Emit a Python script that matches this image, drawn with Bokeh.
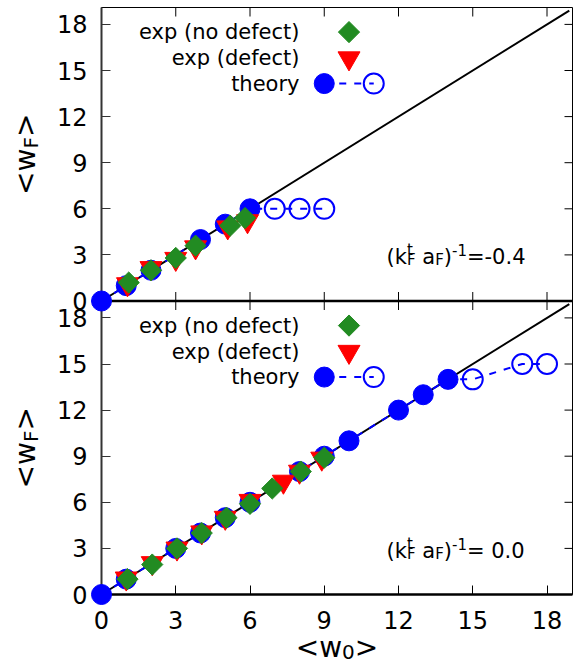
import math
from bokeh.plotting import figure
from bokeh.models import Range1d, LinearAxis, FixedTicker, CustomJSTickFormatter, Label
from bokeh.embed import file_html
from bokeh.resources import INLINE

FONT = "DejaVu Sans"
BLUE, RED, GREEN = "#0000ff", "#ff0000", "#228b22"

# ---------------- data ----------------
x_ticks = [0, 3, 6, 9, 12, 15, 18]
y_ticks = [0, 3, 6, 9, 12, 15, 18]
legend_labels = ["exp (no defect)", "exp (defect)", "theory"]
panel_params = ["=-0.4", "= 0.0"]

# reference line y = x
ref_line_x = [0, 18.9]
ref_line_y = [0, 18.9]

# top panel, (k a)^-1 = -0.4
top_theory_x = [0, 1, 2, 4, 5, 6]
top_theory_y = [0, 1, 2, 4, 5, 6]
top_theory_open_x = [7, 8, 9]
top_theory_open_y = [6, 6, 6]
top_nodefect_x = [1.1, 2.0, 3.0, 3.8, 5.2, 5.8]
top_nodefect_y = [1.2, 2.0, 2.8, 3.6, 4.9, 5.4]
top_defect_x = [1.05, 2.0, 3.0, 3.8, 5.1, 5.9]
top_defect_y = [1.1, 2.15, 2.75, 3.5, 4.8, 5.2]

# bottom panel, (k a)^-1 = 0.0
bot_theory_x = [0, 1, 3, 4, 5, 6, 8, 9, 10, 12, 13, 14]
bot_theory_y = [0, 1, 3, 4, 5, 6, 8, 9, 10, 12, 13, 14]
bot_theory_open_x = [15, 17, 18]
bot_theory_open_y = [14, 15, 15]
bot_nodefect_x = [1.05, 2.05, 3.05, 4.05, 5.05, 6.0, 6.9, 8.05, 9.0]
bot_nodefect_y = [1.0, 1.95, 3.0, 4.0, 5.0, 5.9, 6.9, 8.0, 8.9]
bot_defect_x = [1.0, 2.05, 3.05, 4.05, 5.0, 6.0, 7.35, 8.0, 8.9]
bot_defect_y = [1.05, 2.05, 3.0, 4.05, 5.0, 6.1, 7.35, 8.0, 8.85]

# ---------------- layout constants ----------------
W, H = 574, 662
PAD_L, PAD_R, PAD_T, PAD_B = 101, 2, 7, 68      # plot-area margins in pixels
X0, X1 = 0.0, 19.03                             # plotted x window
YMAX = 19.1                                     # each panel spans 0..YMAX
PXX = (X1 - X0) / (W - PAD_L - PAD_R)           # data units per pixel, x
PX = 2 * YMAX / (H - PAD_T - PAD_B)             # data units per pixel, y
XR = (X0 - PAD_L * PXX, X1 + PAD_R * PXX)
YR = (-YMAX - PAD_B * PX, YMAX + PAD_T * PX)    # top panel coordinates (bottom panel shifted by YMAX)

LEG_TEXT_X = 8.0
LEG_KEY_X = [9.0, 10.0, 11.0]
LEG_ROWS = [17.5, 15.8, 14.15]
ANN_X = 11.52
ANN_Y = 35 * PX
FIX = 9   # baseline correction (px) for alphabetic-baseline labels

ADV = {" ": 651, "(": 799, ")": 799, "-": 739, ".": 651, "=": 1716, "<": 1716,
       ">": 1716, "F": 1178, "a": 1255, "k": 1186, "t": 803, "w": 1675}
for d in "0123456789":
    ADV[d] = 1303


def tw(s, size):
    return sum(ADV.get(c, 1200) for c in s) * size / 2048.0


p = figure(width=W, height=H, x_range=Range1d(*XR), y_range=Range1d(*YR),
           x_axis_location=None, y_axis_location=None,
           output_backend="svg", toolbar_location=None,
           min_border_left=0, min_border_right=0, min_border_top=0, min_border_bottom=0,
           background_fill_color="white", border_fill_color="white",
           outline_line_color=None)
p.extra_y_ranges = {"bot": Range1d(YR[0] + YMAX, YR[1] + YMAX)}
p.grid.visible = False

# ---------------- axes ----------------
yt = FixedTicker(ticks=[float(t) for t in y_ticks] + [t - YMAX for t in y_ticks])
fmt = CustomJSTickFormatter(args=dict(Y=YMAX),
                            code="const v = tick < -1e-6 ? tick + Y : tick; return String(Math.round(v));")
left = LinearAxis(ticker=yt, formatter=fmt, fixed_location=X0, bounds=(-YMAX, YMAX),
                  major_tick_in=9, major_tick_out=0,
                  major_label_text_font=FONT, major_label_text_font_size="24px",
                  major_label_standoff=14, axis_line_width=2, axis_line_color="#333333",
                  major_tick_line_color="#333333", major_label_text_color="black")
p.add_layout(left, "left")

xt = FixedTicker(ticks=x_ticks)
below = LinearAxis(ticker=xt, fixed_location=-YMAX, bounds=(X0, X1),
                   major_tick_in=9, major_tick_out=0,
                   major_label_text_font=FONT, major_label_text_font_size="24px",
                   major_label_standoff=16, axis_line_width=2.5, axis_line_color="black",
                   major_label_text_color="black")
p.add_layout(below, "below")

# borders (top, right) and separator between the two panels
p.segment(x0=[X0, X1, X0], y0=[YMAX, -YMAX, 0], x1=[X1, X1, X1], y1=[YMAX, YMAX, 0],
          line_color="black", line_width=[1, 1, 2.5])

# mirrored ticks on the top and right borders, and on the middle separator
TL = 9 * PX
TR = 8 * PXX
n = len(x_ticks)
p.segment(x0=x_ticks, y0=[YMAX - TL] * n, x1=x_ticks, y1=[YMAX] * n, line_color="black", line_width=1)
p.segment(x0=x_ticks, y0=[-TL] * n, x1=x_ticks, y1=[TL] * n, line_color="black", line_width=1)
for rn in ["default", "bot"]:
    m = len(y_ticks)
    p.segment(x0=[X1 - TR] * m, y0=y_ticks, x1=[X1] * m, y1=y_ticks, y_range_name=rn,
              line_color="black", line_width=1)


def rich(x, y, pieces, rn="default", rotated=False, dx0=0.0, dy0=0.0):
    pos = 0.0
    for txt, size, shift, adv in pieces:
        if txt:
            if rotated:
                xo, yo, ang = dx0 - shift - FIX, dy0 + pos, math.pi / 2
            else:
                xo, yo, ang = dx0 + pos, dy0 + shift + FIX, 0.0
            p.add_layout(Label(x=x, y=y, x_offset=xo, y_offset=yo, text=txt, angle=ang,
                               text_font=FONT, text_font_size=f"{size}px", text_color="black",
                               text_align="left", text_baseline="alphabetic", y_range_name=rn))
        pos += adv


panels = [
    dict(rn="default", th_x=top_theory_x, th_y=top_theory_y, op_x=top_theory_open_x, op_y=top_theory_open_y,
         nd_x=top_nodefect_x, nd_y=top_nodefect_y, d_x=top_defect_x, d_y=top_defect_y,
         param=panel_params[0]),
    dict(rn="bot", th_x=bot_theory_x, th_y=bot_theory_y, op_x=bot_theory_open_x, op_y=bot_theory_open_y,
         nd_x=bot_nodefect_x, nd_y=bot_nodefect_y, d_x=bot_defect_x, d_y=bot_defect_y,
         param=panel_params[1]),
]

M, S = 21, 15
T, TS = 28, 20

for pan in panels:
    rn = pan["rn"]
    p.line(ref_line_x, ref_line_y, y_range_name=rn, line_color="black", line_width=2)
    p.line(pan["th_x"] + pan["op_x"], pan["th_y"] + pan["op_y"], y_range_name=rn,
           line_color=BLUE, line_width=2, line_dash="7 8")
    p.scatter(pan["op_x"], pan["op_y"], y_range_name=rn, marker="circle", size=20,
              fill_color=None, line_color=BLUE, line_width=2)
    p.scatter(pan["th_x"], pan["th_y"], y_range_name=rn, marker="circle", size=20,
              fill_color=BLUE, line_color=BLUE, line_width=1, level="overlay")
    p.scatter(pan["d_x"], pan["d_y"], y_range_name=rn, marker="inverted_triangle", size=22,
              fill_color=RED, line_color=RED, line_width=1, level="overlay")
    p.scatter(pan["nd_x"], pan["nd_y"], y_range_name=rn, marker="square", angle=math.pi / 4, size=15,
              fill_color=GREEN, line_color=GREEN, line_width=1, level="overlay")

    # legend
    for lab, row in zip(legend_labels, LEG_ROWS):
        p.add_layout(Label(x=LEG_TEXT_X, y=row, text=lab, text_font=FONT, text_font_size=f"{M}px",
                           text_align="right", text_baseline="middle", text_color="black",
                           y_range_name=rn))
    p.scatter([LEG_KEY_X[1]], [LEG_ROWS[0]], y_range_name=rn, marker="square", angle=math.pi / 4,
              size=15, fill_color=GREEN, line_color=GREEN)
    p.scatter([LEG_KEY_X[1]], [LEG_ROWS[1]], y_range_name=rn, marker="inverted_triangle",
              size=22, fill_color=RED, line_color=RED)
    p.line([LEG_KEY_X[0], LEG_KEY_X[2]], [LEG_ROWS[2], LEG_ROWS[2]], y_range_name=rn,
           line_color=BLUE, line_width=2, line_dash="7 8")
    p.scatter([LEG_KEY_X[0]], [LEG_ROWS[2]], y_range_name=rn, marker="circle", size=20,
              fill_color=BLUE, line_color=BLUE)
    p.scatter([LEG_KEY_X[2]], [LEG_ROWS[2]], y_range_name=rn, marker="circle", size=20,
              fill_color=None, line_color=BLUE, line_width=2)

    # (k_F^t a_F)^-1 = value
    ann = [("(k", M, 0, tw("(k", M)),
           ("t", S, 7, 0.0),
           ("F", S, -3, max(tw("t", S), tw("F", S))),
           ("", M, 0, tw(" ", M)),
           ("a", M, 0, tw("a", M)),
           ("F", S, -3, tw("F", S)),
           (")", M, 0, tw(")", M)),
           ("-1", S, 7, tw("-1", S)),
           (pan["param"], M, 0, tw(pan["param"], M))]
    rich(ANN_X, ANN_Y, ann, rn=rn)

    # y axis title <w_F>, centred on the panel
    ytitle = [("<w", T, 0, tw("<w", T)), ("F", TS, -5, tw("F", TS)), (">", T, 0, tw(">", T))]
    L = sum(x[3] for x in ytitle)
    rich(X0, YMAX / 2, ytitle, rn=rn, rotated=True, dx0=-67, dy0=-L / 2)

# x axis title <w_0>
xtitle = [("<w", T, 0, tw("<w", T)), ("0", TS, -4, tw("0", TS)), (">", T, 0, tw(">", T))]
L = sum(x[3] for x in xtitle)
rich((X0 + X1) / 2, -YMAX, xtitle, dx0=-L / 2, dy0=-62)

open("out.html", "w").write(file_html(p, INLINE))
